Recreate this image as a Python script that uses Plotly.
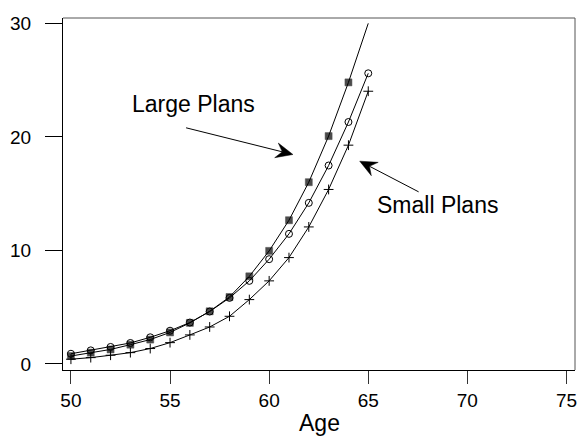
import math
import plotly.graph_objects as go

# Age at which the value is measured
ages = [50, 51, 52, 53, 54, 55, 56, 57, 58, 59, 60, 61, 62, 63, 64, 65]

# Large plans (filled markers); the point at 65 is drawn as line only
large_plans = [0.70, 1.00, 1.28, 1.70, 2.15, 2.78, 3.62, 4.64, 5.90, 7.72, 9.96, 12.66, 16.01, 20.07, 24.80, 30.00]
# Intermediate curve (open circles)
mid_plans = [0.90, 1.20, 1.50, 1.85, 2.35, 2.93, 3.65, 4.62, 5.82, 7.32, 9.23, 11.46, 14.19, 17.48, 21.31, 25.60]
# Small plans (plus markers)
small_plans = [0.42, 0.56, 0.77, 1.00, 1.36, 1.88, 2.56, 3.26, 4.20, 5.67, 7.32, 9.37, 12.07, 15.37, 19.27, 24.02]

x_ticks = [50, 55, 60, 65, 70, 75]
y_ticks = [0, 10, 20, 30]

FONT = "Liberation Sans, Arial, sans-serif"

W, H = 580, 438
M_L, M_R, M_T, M_B = 63, 3, 18, 68
X_RANGE = [49.6, 75.43]
Y_RANGE = [-0.53, 30.47]
PLOT_W = W - M_L - M_R
PLOT_H = H - M_T - M_B


def to_px(x, y):
    px = M_L + (x - X_RANGE[0]) / (X_RANGE[1] - X_RANGE[0]) * PLOT_W
    py = M_T + PLOT_H - (y - Y_RANGE[0]) / (Y_RANGE[1] - Y_RANGE[0]) * PLOT_H
    return px, py


def to_data(px, py):
    x = X_RANGE[0] + (px - M_L) / PLOT_W * (X_RANGE[1] - X_RANGE[0])
    y = Y_RANGE[0] + (M_T + PLOT_H - py) / PLOT_H * (Y_RANGE[1] - Y_RANGE[0])
    return x, y


def add_pointer(fig, tail, tip, length=17, half_width=7.5, notch=6):
    """Straight pointer with a narrow, notched, filled head."""
    sx, sy = to_px(*tail)
    tx, ty = to_px(*tip)
    d = math.hypot(tx - sx, ty - sy)
    ux, uy = (tx - sx) / d, (ty - sy) / d
    nx, ny = -uy, ux
    back = (tx - length * ux, ty - length * uy)
    inner = (tx - (length - notch) * ux, ty - (length - notch) * uy)
    c1 = (back[0] + half_width * nx, back[1] + half_width * ny)
    c2 = (back[0] - half_width * nx, back[1] - half_width * ny)
    pts = [to_data(tx, ty), to_data(*c1), to_data(*inner), to_data(*c2)]
    path = "M " + " L ".join(f"{px:.4f},{py:.4f}" for px, py in pts) + " Z"
    ix, iy = to_data(*inner)
    fig.add_shape(type="line", xref="x", yref="y", x0=tail[0], y0=tail[1],
                  x1=ix, y1=iy, line=dict(color="black", width=1))
    fig.add_shape(type="path", xref="x", yref="y", path=path,
                  fillcolor="black", line=dict(color="black", width=0.5))


fig = go.Figure()

fig.add_trace(go.Scatter(
    x=ages, y=small_plans, mode="lines+markers",
    line=dict(color="black", width=1),
    marker=dict(symbol="cross-thin-open", size=7, color="black",
                line=dict(color="black", width=1)),
    showlegend=False,
))
fig.add_trace(go.Scatter(
    x=ages, y=mid_plans, mode="lines+markers",
    line=dict(color="black", width=1),
    marker=dict(symbol="circle-open", size=7, color="black",
                line=dict(color="black", width=1)),
    showlegend=False,
))
fig.add_trace(go.Scatter(
    x=ages, y=large_plans, mode="lines+markers",
    line=dict(color="black", width=1),
    marker=dict(symbol="square", size=[7] * (len(ages) - 1) + [0],
                color="black", line=dict(color="black", width=0.5)),
    showlegend=False,
))

# Labels with pointer arrows
fig.add_annotation(x=56.2, y=21.6, xref="x", yref="y", text="Large Plans",
                   showarrow=False, yanchor="bottom",
                   font=dict(family=FONT, size=23, color="black"))
add_pointer(fig, tail=(55.81, 20.80), tip=(61.2, 18.45))

fig.add_annotation(x=68.5, y=12.7, xref="x", yref="y", text="Small Plans",
                   showarrow=False, yanchor="bottom",
                   font=dict(family=FONT, size=23, color="black"))
add_pointer(fig, tail=(67.54, 15.16), tip=(64.57, 17.86))

# Axis title
fig.add_annotation(x=0.5, y=-0.107, xref="paper", yref="paper", text="Age",
                   showarrow=False, yanchor="top",
                   font=dict(family=FONT, size=23, color="black"))

# Top and right edges of the frame
fig.add_shape(type="line", xref="paper", yref="paper", x0=0, x1=1, y0=1, y1=1,
              line=dict(color="#555555", width=1))
fig.add_shape(type="line", xref="paper", yref="paper", x0=1, x1=1, y0=0, y1=1,
              line=dict(color="#555555", width=1))

fig.update_layout(
    width=W, height=H,
    margin=dict(l=M_L, r=M_R, t=M_T, b=M_B),
    paper_bgcolor="white", plot_bgcolor="white",
    font=dict(family=FONT, size=19, color="black"),
    xaxis=dict(range=X_RANGE, tickvals=x_ticks, showgrid=False,
               zeroline=False, showline=True, linecolor="black", linewidth=1,
               ticks="outside", ticklen=13, tickwidth=1, tickcolor="#333333",
               ticklabelstandoff=0,
               tickfont=dict(family=FONT, size=19, color="black")),
    yaxis=dict(range=Y_RANGE, tickvals=y_ticks, showgrid=False,
               zeroline=False, showline=True, linecolor="black", linewidth=1,
               ticks="outside", ticklen=17, tickwidth=1, tickcolor="black",
               ticklabelstandoff=10,
               tickfont=dict(family=FONT, size=19, color="black")),
)

fig.write_html("out.html")
